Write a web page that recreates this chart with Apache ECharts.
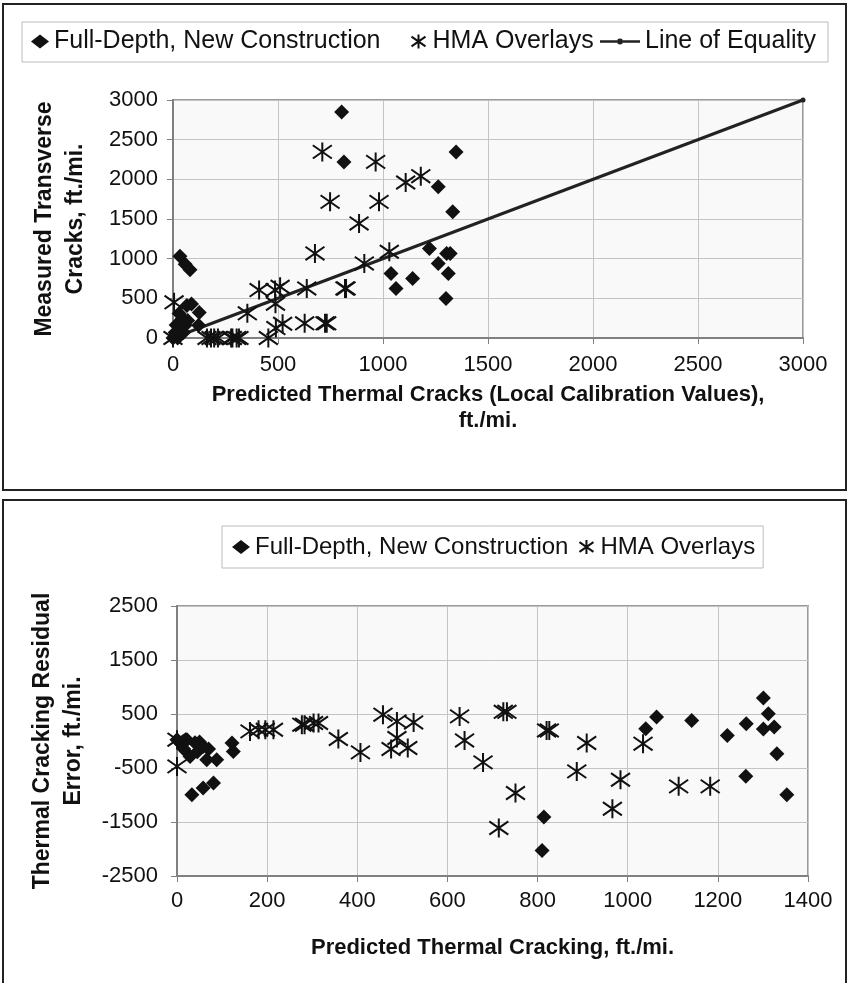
<!DOCTYPE html>
<html>
<head>
<meta charset="utf-8">
<script src="https://cdn.jsdelivr.net/npm/echarts@6/dist/echarts.min.js"></script>
<style>
  html, body { margin: 0; padding: 0; background: #ffffff; }
  #chart { width: 849px; height: 983px; }
</style>
</head>
<body>
<div id="chart"></div>
<script>
// Thermal cracking calibration: measured vs. predicted cracks (upper panel)
// and the residual error against predicted cracking (lower panel).

// Upper panel: [predicted, measured] in ft./mi.
const fullDepthMeasured = [
  [0, 0], [22, 0], [40, 70], [58, 160], [29, 310], [66, 410], [88, 430],
  [122, 160], [125, 320], [33, 1030], [58, 930], [81, 860], [10, 70],
  [15, 165], [45, 245], [70, 220], [50, 70],
  [803, 2849], [814, 2220], [1038, 814], [1062, 625], [1141, 751],
  [1221, 1129], [1263, 940], [1263, 1905], [1300, 499], [1311, 814],
  [1303, 1066], [1320, 1066], [1332, 1590], [1348, 2346]
];
const hmaMeasured = [
  [0, 0], [5, 450], [162, 0], [181, 0], [196, 0], [214, 0], [277, 0],
  [283, 0], [303, 0], [314, 0], [354, 311], [410, 604], [454, 0],
  [486, 604], [488, 432], [490, 125], [510, 646], [522, 180], [627, 185],
  [637, 625], [676, 1066], [711, 2346], [724, 185], [732, 185], [748, 1716],
  [819, 625], [824, 625], [886, 1444], [911, 940], [965, 2220], [981, 1716],
  [1030, 1087], [1108, 1960], [1180, 2040]
];
const equalityLine = [[0, 0], [3000, 3000]];

// Lower panel: [predicted, residual error] in ft./mi.
const fullDepthResidual = [
  [0, 24], [22, 24], [40, -31], [58, -100], [29, -285], [66, -346], [88, -346],
  [122, -37], [125, -193], [33, -994], [58, -870], [81, -778], [10, -60],
  [15, -150], [45, -200], [70, -150], [50, -20],
  [810, -2026], [814, -1407], [1040, 228], [1064, 444], [1142, 381],
  [1221, 104], [1263, 320], [1262, -655], [1301, 796], [1312, 505],
  [1301, 222], [1325, 259], [1331, -235], [1353, -994]
];
const hmaResidual = [
  [0, 24], [0, -470], [162, 178], [181, 209], [196, 209], [214, 209],
  [277, 302], [283, 302], [303, 333], [314, 333], [358, 37], [407, -211],
  [457, 487], [475, -148], [488, 56], [488, 363], [512, -130], [525, 344],
  [627, 456], [638, 11], [679, -396], [714, -1611], [724, 540], [732, 540],
  [751, -963], [820, 196], [826, 196], [887, -563], [909, -37], [966, -1254],
  [984, -717], [1034, -50], [1113, -840], [1183, -840]
];

// Axis ranges and tick steps
const upperAxisMin = 0, upperAxisMax = 3000, upperAxisStep = 500;
const lowerXMin = 0, lowerXMax = 1400, lowerXStep = 200;
const lowerYMin = -2500, lowerYMax = 2500, lowerYStep = 1000;

// Text
const seriesNames = ['Full-Depth, New Construction', 'HMA Overlays', 'Line of Equality'];
const upperXTitle = 'Predicted Thermal Cracks (Local Calibration Values),\nft./mi.';
const upperYTitle = 'Measured Transverse\nCracks, ft./mi.';
const lowerXTitle = 'Predicted Thermal Cracking, ft./mi.';
const lowerYTitle = 'Thermal Cracking Residual\nError, ft./mi.';

const FONT = '"Liberation Sans", Arial, Helvetica, sans-serif';
const INK = '#111111';
const STAR = 'path://M10,0L10,20M0,3L20,17M20,3L0,17';
// line with a small dot in the middle, used as the equality legend key
const LINE_KEY = 'path://M0,3.8L17,3.8L17,6.2L0,6.2Z M23,3.8L40,3.8L40,6.2L23,6.2Z M17,5A3,3 0 1 1 23,5A3,3 0 1 1 17,5Z';
const starStyle = { color: 'rgba(0,0,0,0)', borderColor: INK, borderWidth: 2, opacity: 1 };
const diamondStyle = { color: INK, opacity: 1 };
const plainNumber = v => String(v);

const chart = echarts.init(document.getElementById('chart'), null, { renderer: 'canvas' });

function valueAxis(extra) {
  return Object.assign({
    type: 'value',
    axisLine: { show: true, onZero: false, lineStyle: { color: '#808080', width: 2 } },
    axisTick: { show: true, inside: false, length: 6, lineStyle: { color: '#808080', width: 1 } },
    splitLine: { show: true, lineStyle: { color: '#c4c4c4', width: 1 } },
    nameTextStyle: { color: INK, fontFamily: FONT, fontSize: 23, fontWeight: 'bold', lineHeight: 31 }
  }, extra);
}
function tickLabels(margin) {
  return { color: INK, fontFamily: FONT, fontSize: 22, margin: margin, formatter: plainNumber };
}
const upperLegendText = { color: INK, fontFamily: FONT, fontSize: 25 };
const lowerLegendText = { color: INK, fontFamily: FONT, fontSize: 24 };

const option = {
  animation: false,
  backgroundColor: '#ffffff',
  graphic: [
    { type: 'rect', shape: { x: 3, y: 4, width: 843, height: 486 },
      style: { fill: 'none', stroke: '#222', lineWidth: 2 }, z: -10 },
    { type: 'rect', shape: { x: 3, y: 500, width: 843, height: 500 },
      style: { fill: 'none', stroke: '#222', lineWidth: 2 }, z: -10 },
    // frame of the upper legend, which is made of two legend components
    { type: 'rect', shape: { x: 22, y: 22, width: 806, height: 40 },
      style: { fill: '#ffffff', stroke: '#bbbbbb', lineWidth: 1 }, z: -5 }
  ],
  grid: [
    { left: 173, top: 100, width: 630, height: 238, show: true,
      backgroundColor: '#f9f9f9', borderColor: '#9a9a9a', borderWidth: 2 },
    { left: 177, top: 606, width: 631, height: 270, show: true,
      backgroundColor: '#f9f9f9', borderColor: '#9a9a9a', borderWidth: 2 }
  ],
  legend: [
    {
      left: 31, top: 29, padding: 0, itemGap: 30,
      itemWidth: 18, itemHeight: 14,
      textStyle: upperLegendText, selectedMode: false,
      data: [
        { name: seriesNames[0], icon: 'diamond', itemStyle: diamondStyle },
        { name: seriesNames[1], icon: STAR, itemStyle: starStyle }
      ]
    },
    {
      left: 600, top: 29, padding: 0,
      itemWidth: 40, itemHeight: 14,
      textStyle: upperLegendText, selectedMode: false,
      data: [
        { name: seriesNames[2], icon: LINE_KEY, itemStyle: { color: '#222', borderWidth: 0 } }
      ]
    },
    {
      left: 222, top: 526, padding: [9, 8, 9, 10], itemGap: 10,
      itemWidth: 18, itemHeight: 14,
      backgroundColor: '#ffffff', borderColor: '#bbbbbb', borderWidth: 1,
      textStyle: lowerLegendText, selectedMode: false,
      data: [
        { name: seriesNames[0], icon: 'diamond', itemStyle: diamondStyle },
        { name: seriesNames[1], icon: STAR, itemStyle: starStyle }
      ]
    }
  ],
  xAxis: [
    valueAxis({
      gridIndex: 0, min: upperAxisMin, max: upperAxisMax, interval: upperAxisStep,
      name: upperXTitle, nameLocation: 'middle', nameGap: 44,
      axisLabel: tickLabels(16),
      nameTextStyle: { color: INK, fontFamily: FONT, fontSize: 22, fontWeight: 'bold', lineHeight: 26 }
    }),
    valueAxis({
      gridIndex: 1, min: lowerXMin, max: lowerXMax, interval: lowerXStep,
      name: lowerXTitle, nameLocation: 'middle', nameGap: 58,
      axisLabel: tickLabels(14),
      nameTextStyle: { color: INK, fontFamily: FONT, fontSize: 22, fontWeight: 'bold', lineHeight: 28 }
    })
  ],
  yAxis: [
    valueAxis({
      gridIndex: 0, min: upperAxisMin, max: upperAxisMax, interval: upperAxisStep,
      name: upperYTitle, nameLocation: 'middle', nameRotate: 90, nameGap: 82,
      axisLabel: tickLabels(15)
    }),
    valueAxis({
      gridIndex: 1, min: lowerYMin, max: lowerYMax, interval: lowerYStep,
      name: lowerYTitle, nameLocation: 'middle', nameRotate: 90, nameGap: 88,
      axisLabel: tickLabels(19)
    })
  ],
  series: [
    {
      name: seriesNames[2], type: 'line', xAxisIndex: 0, yAxisIndex: 0,
      data: equalityLine, symbol: 'circle', symbolSize: 5, showSymbol: true,
      lineStyle: { color: '#222', width: 3 }, itemStyle: { color: '#222' },
      silent: true, z: 2
    },
    {
      name: seriesNames[0], type: 'scatter', xAxisIndex: 0, yAxisIndex: 0,
      data: fullDepthMeasured, symbol: 'diamond', symbolSize: 15,
      itemStyle: diamondStyle, silent: true, z: 3
    },
    {
      name: seriesNames[1], type: 'scatter', xAxisIndex: 0, yAxisIndex: 0,
      data: hmaMeasured, symbol: STAR, symbolSize: 19,
      itemStyle: starStyle, silent: true, z: 4
    },
    {
      name: seriesNames[0], type: 'scatter', xAxisIndex: 1, yAxisIndex: 1,
      data: fullDepthResidual, symbol: 'diamond', symbolSize: 15,
      itemStyle: diamondStyle, silent: true, z: 3
    },
    {
      name: seriesNames[1], type: 'scatter', xAxisIndex: 1, yAxisIndex: 1,
      data: hmaResidual, symbol: STAR, symbolSize: 19,
      itemStyle: starStyle, silent: true, z: 4
    }
  ]
};

chart.setOption(option);
</script>
</body>
</html>
